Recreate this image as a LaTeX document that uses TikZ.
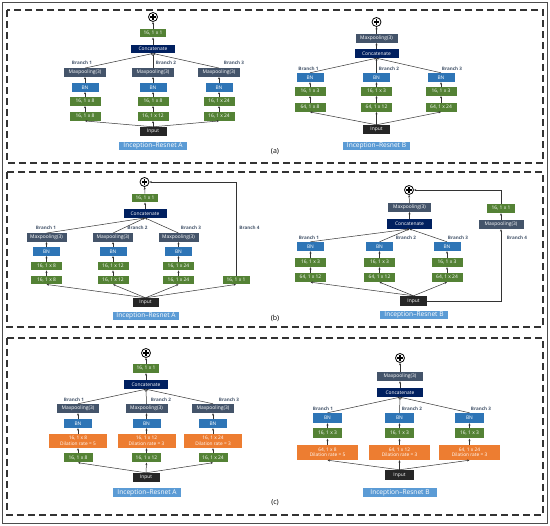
\documentclass[tikz,border=0pt]{standalone}
\usepackage{fontspec}
\setmainfont{Open Sans}
\usetikzlibrary{arrows.meta}
\definecolor{cgreen}{HTML}{548235}
\definecolor{cbn}{HTML}{2E75B6}
\definecolor{cmp}{HTML}{44546A}
\definecolor{ccat}{HTML}{002060}
\definecolor{cinp}{HTML}{262626}
\definecolor{corg}{HTML}{ED7D31}
\definecolor{clab}{HTML}{5B9BD5}
\definecolor{cline}{HTML}{333333}
\definecolor{cbr}{HTML}{44546A}
\begin{document}
\begin{tikzpicture}[x=1pt,y=-1pt,
 box/.style={rectangle,inner sep=0pt,text=white,font=\fontsize{4.9}{5}\selectfont,minimum height=8.5pt},
 g/.style={box,fill=cgreen,minimum width=31pt},
 bn/.style={box,fill=cbn,minimum width=27pt},
 mp/.style={box,fill=cmp,minimum width=42pt},
 cat/.style={box,fill=ccat,minimum width=44pt},
 inp/.style={box,fill=cinp,minimum width=27pt,minimum height=9pt},
 org/.style={box,fill=corg,minimum width=58pt,minimum height=14pt,align=center,font=\fontsize{4.8}{5.5}\selectfont},
 lab/.style={rectangle,inner sep=0pt,fill=clab,text=white,font=\fontsize{6.6}{7}\selectfont,minimum height=8.5pt,minimum width=68pt},
 br/.style={font=\bfseries\fontsize{4.6}{5}\selectfont,text=cbr,inner sep=0pt},
 arr/.style={draw=cline,line width=0.5pt,-{Stealth[length=2.4pt,width=2pt]}},
 plus/.style={circle,draw=black,fill=white,line width=0.8pt,minimum size=9pt,inner sep=0pt,
   path picture={\fill[black] ([xshift=-2.8pt,yshift=-0.75pt]path picture bounding box.center) rectangle ++(5.6pt,1.5pt);
                 \fill[black] ([xshift=-0.75pt,yshift=-2.8pt]path picture bounding box.center) rectangle ++(1.5pt,5.6pt);}},
 panel/.style={draw=cline,dash pattern=on 7pt off 4pt,line width=1.1pt},
 tag/.style={font=\fontsize{7}{8}\selectfont,text=black,inner sep=0pt}]
\useasboundingbox (0,0) rectangle (550,526);
\fill[white] (0,0) rectangle (550,526);
\draw[gray!60!black,line width=1pt] (2.5,2.5) rectangle (547.5,523.5);
\draw[panel] (7,10) rectangle (543,163);
\draw[panel] (7,172) rectangle (543,327);
\draw[panel] (7,338) rectangle (543,515);
\node[tag] (ta) at (275,152) {(a)};
\node[tag] (tb) at (275,318) {(b)};
\node[tag] (tc) at (275,503) {(c)};

% ---------- (a) Inception-Resnet A
\node[plus] (aAp) at (153,17) {};
\node[g,minimum width=26pt] (aAo) at (153,33) {16, 1 x 1};
\node[cat] (aAc) at (153,49) {Concatenate};
\node[inp] (aAin) at (153,131.5) {Input};
\node[lab] (aAlab) at (153,146) {Inception–Resnet A};
\draw[arr] (aAo) -- (aAp);
\draw[arr] (aAc) -- (aAo);
\foreach \i/\x/\ta/\tb/\bx in {1/85/{16, 1 x 8}/{16, 1 x 8}/82, 2/153/{16, 1 x 8}/{16, 1 x 12}/166, 3/219/{16, 1 x 24}/{16, 1 x 24}/234}{
 \node[mp] (aAm\i) at (\x,72.5) {Maxpooling(3)};
 \node[bn] (aAb\i) at (\x,87.5) {BN};
 \node[g] (aAu\i) at (\x,101.5) {\ta};
 \node[g] (aAl\i) at (\x,116.5) {\tb};
 \node[br] (aAt\i) at (\bx,63) {Branch \i};
 \draw[arr] (aAin.north) -- (aAl\i.south);
 \draw[arr] (aAl\i) -- (aAu\i);
 \draw[arr] (aAu\i) -- (aAb\i);
 \draw[arr] (aAb\i) -- (aAm\i);
 \draw[arr] (aAm\i.north) -- (aAc.south);
}

% ---------- (a) Inception-Resnet B
\node[plus] (aBp) at (376.5,22) {};
\node[mp] (aBmx) at (376.5,38.5) {Maxpooling(3)};
\node[cat,minimum height=9pt] (aBc) at (376.5,53.5) {Concatenate};
\node[inp] (aBin) at (376.5,129.5) {Input};
\node[lab,minimum width=67pt] (aBlab) at (376.5,146) {Inception–Resnet B};
\draw[arr] (aBmx) -- (aBp);
\draw[arr] (aBc) -- (aBmx);
\foreach \i/\x/\tb/\bx in {1/310/{64, 1 x 8}/308.5, 2/376.5/{64, 1 x 12}/389, 3/441/{64, 1 x 24}/452}{
 \node[bn,minimum height=9pt] (aBb\i) at (\x,77.5) {BN};
 \node[g] (aBu\i) at (\x,91.5) {16, 1 x 3};
 \node[g] (aBl\i) at (\x,107.5) {\tb};
 \node[br] (aBt\i) at (\bx,69) {Branch \i};
 \draw[arr] (aBin.north) -- (aBl\i.south);
 \draw[arr] (aBl\i) -- (aBu\i);
 \draw[arr] (aBu\i) -- (aBb\i);
 \draw[arr] (aBb\i.north) -- (aBc.south);
}

% ---------- (b) Inception-Resnet A
\node[plus] (bAp) at (144.5,182) {};
\node[g,minimum width=26pt] (bAo) at (145,198) {16, 1 x 1};
\node[cat,minimum width=43pt] (bAc) at (145,213.5) {Concatenate};
\node[inp,minimum width=26pt] (bAin) at (145.5,302.5) {Input};
\node[lab,minimum width=66pt] (bAlab) at (146,316) {Inception–Resnet A};
\draw[arr] (bAo) -- (bAp);
\draw[arr] (bAc) -- (bAo);
\foreach \i/\x/\ta/\bx in {1/46.5/{16, 1 x 8}/46, 2/113/{16, 1 x 12}/137.5, 3/178.5/{16, 1 x 24}/191}{
 \node[mp,minimum width=40pt] (bAm\i) at (\x,237.5) {Maxpooling(3)};
 \node[bn] (bAb\i) at (\x,251.5) {BN};
 \node[g] (bAu\i) at (\x,266) {\ta};
 \node[g] (bAl\i) at (\x,280) {\ta};
 \node[br] (bAt\i) at (\bx,228) {Branch \i};
 \draw[arr] (bAin.north) -- (bAl\i.south);
 \draw[arr] (bAl\i) -- (bAu\i);
 \draw[arr] (bAu\i) -- (bAb\i);
 \draw[arr] (bAb\i) -- (bAm\i);
 \draw[arr] (bAm\i.north) -- (bAc.south);
}
\node[g,minimum width=27pt] (bAo4) at (236,280) {16, 1 x 1};
\node[br] (bAt4) at (249.5,228) {Branch 4};
\draw[arr] (bAin.north) -- (bAo4.south);
\draw[arr] (bAo4.north) |- (bAp.east);

% ---------- (b) Inception-Resnet B
\node[plus] (bBp) at (409,190) {};
\node[mp,minimum width=43pt] (bBmx) at (409.5,207.5) {Maxpooling(3)};
\node[cat,minimum width=45pt,minimum height=9.5pt] (bBc) at (409.5,224) {Concatenate};
\node[inp,minimum height=10pt] (bBin) at (413.5,301) {Input};
\node[lab] (bBlab) at (414,315) {Inception–Resnet B};
\draw[arr] (bBmx) -- (bBp);
\draw[arr] (bBc) -- (bBmx);
\foreach \i/\x/\tb/\bx in {1/310.5/{64, 1 x 12}/309, 2/379.5/{64, 1 x 12}/406, 3/447/{64, 1 x 24}/458}{
 \node[bn,minimum height=9pt] (bBb\i) at (\x,246.5) {BN};
 \node[g,minimum height=9pt] (bBu\i) at (\x,262.5) {16, 1 x 3};
 \node[g,minimum height=9pt] (bBl\i) at (\x,277.5) {\tb};
 \node[br] (bBt\i) at (\bx,238) {Branch \i};
 \draw[arr] (bBin.north) -- (bBl\i.south);
 \draw[arr] (bBl\i) -- (bBu\i);
 \draw[arr] (bBu\i) -- (bBb\i);
 \draw[arr] (bBb\i.north) -- (bBc.south);
}
\node[mp,minimum width=45pt,minimum height=9pt] (bBm4) at (501,224.5) {Maxpooling(3)};
\node[g,minimum width=28pt,minimum height=9pt] (bBo4) at (501,208.5) {16, 1 x 1};
\node[br] (bBt4) at (517,238) {Branch 4};
\draw[arr] (bBin.east) -| (bBm4.south);
\draw[arr] (bBm4) -- (bBo4);
\draw[arr] (bBo4.north) |- (bBp.east);

% ---------- (c) Inception-Resnet A
\node[plus] (cAp) at (146,353) {};
\node[g,minimum width=26pt,minimum height=9pt] (cAo) at (146,368.5) {16, 1 x 1};
\node[cat,minimum height=9pt] (cAc) at (146,384.5) {Concatenate};
\node[inp] (cAin) at (146,477.5) {Input};
\node[lab,minimum height=9pt] (cAlab) at (147,492.5) {Inception–Resnet A};
\draw[arr] (cAo) -- (cAp);
\draw[arr] (cAc) -- (cAo);
\foreach \i/\x/\ta/\tr/\bx in {1/78/{16, 1 x 8}/5/74, 2/146.5/{16, 1 x 12}/3/161, 3/213/{16, 1 x 24}/3/229}{
 \node[mp,minimum height=9pt] (cAm\i) at (\x,408.5) {Maxpooling(3)};
 \node[bn,minimum width=28pt,minimum height=9pt] (cAb\i) at (\x,423.5) {BN};
 \node[org] (cAd\i) at (\x,441) {\ta\\Dilation rate = \tr};
 \node[g,minimum width=29pt,minimum height=9pt] (cAl\i) at (\x,458) {\ta};
 \node[br] (cAt\i) at (\bx,400) {Branch \i};
 \draw[arr] (cAin.north) -- (cAl\i.south);
 \draw[arr] (cAl\i) -- (cAd\i);
 \draw[arr] (cAd\i) -- (cAb\i);
 \draw[arr] (cAb\i) -- (cAm\i);
 \draw[arr] (cAm\i.north) -- (cAc.south);
}

% ---------- (c) Inception-Resnet B
\node[plus] (cBp) at (400,358) {};
\node[mp,minimum width=46pt,minimum height=9pt] (cBmx) at (400,376.5) {Maxpooling(3)};
\node[cat,minimum width=46pt,minimum height=9pt] (cBc) at (400,392.5) {Concatenate};
\node[inp,minimum width=29pt,minimum height=10pt] (cBin) at (399.5,475) {Input};
\node[lab,minimum width=74pt,minimum height=9pt] (cBlab) at (400,492.5) {Inception–Resnet B};
\draw[arr] (cBmx) -- (cBp);
\draw[arr] (cBc) -- (cBmx);
\foreach \i/\x/\tb/\tr/\bx in {1/327.5/{64, 1 x 8}/5/323, 2/399.5/{64, 1 x 12}/3/412, 3/469.5/{64, 1 x 24}/3/481}{
 \node[bn,minimum width=29pt,minimum height=10pt] (cBb\i) at (\x,418) {BN};
 \node[g,minimum width=29pt,minimum height=10pt] (cBu\i) at (\x,433.5) {16, 1 x 3};
 \node[org,minimum width=61pt,minimum height=15pt] (cBd\i) at (\x,452.5) {\tb\\Dilation rate = \tr};
 \node[br] (cBt\i) at (\bx,409) {Branch \i};
 \draw[arr] (cBin.north) -- (cBd\i.south);
 \draw[arr] (cBd\i) -- (cBu\i);
 \draw[arr] (cBu\i) -- (cBb\i);
 \draw[arr] (cBb\i.north) -- (cBc.south);
}
\end{tikzpicture}
\end{document}
